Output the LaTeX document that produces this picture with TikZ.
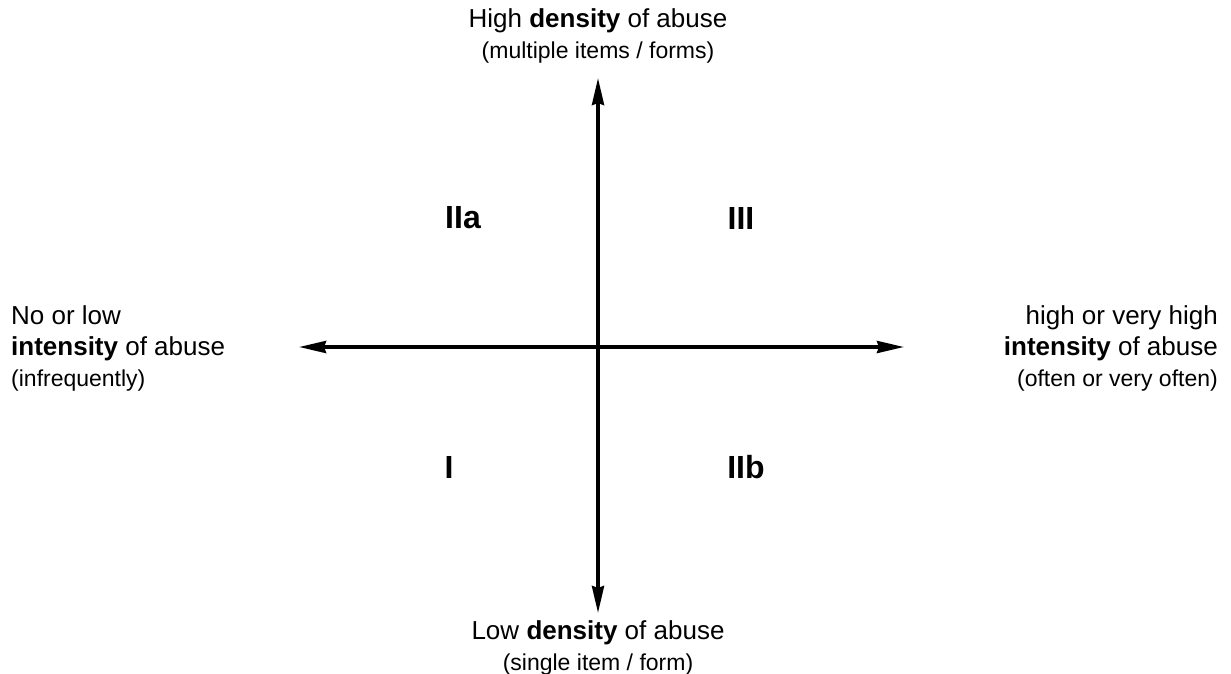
\documentclass[tikz,border=0pt]{standalone}
\usepackage{fontspec}
\setmainfont{Liberation Sans}
\usetikzlibrary{arrows.meta}
\begin{document}
\begin{tikzpicture}[x=1pt,y=-1pt,
  axis/.style={line width=3.5pt,{Stealth[length=27pt,width=12pt,inset=2pt]}-{Stealth[length=27pt,width=12pt,inset=2pt]}},
  lbl/.style={inner sep=0pt,font=\fontsize{26}{31}\selectfont},
  quad/.style={inner sep=0pt,font=\fontsize{32}{38}\selectfont\bfseries}]
\useasboundingbox (0,0) rectangle (1231,673);
\newcommand{\sm}{\fontsize{23}{31}\selectfont}
\coordinate (top) at (598,78);
\coordinate (bot) at (598,613);
\coordinate (lft) at (299,347);
\coordinate (rgt) at (904,347);
\draw[axis] (bot) -- (top);
\draw[axis] (lft) -- (rgt);
\node[lbl,align=center] (tl) at (598,36) {High \textbf{density} of abuse\\{\sm(multiple items / forms)}};
\node[lbl,align=center] (bl) at (598,648) {Low \textbf{density} of abuse\\{\sm(single item / form)}};
\node[lbl,align=left,anchor=west] (ll) at (11,348) {No or low\\\textbf{intensity} of abuse\\{\sm(infrequently)}};
\node[lbl,align=right,anchor=east] (rl) at (1218,348) {high or very high\\\textbf{intensity} of abuse\\{\sm(often or very often)}};
\node[quad] (q2a) at (463,218) {IIa};
\node[quad] (q3) at (741,218) {III};
\node[quad] (q1) at (449,467) {I};
\node[quad] (q2b) at (746,467) {IIb};
\end{tikzpicture}
\end{document}
